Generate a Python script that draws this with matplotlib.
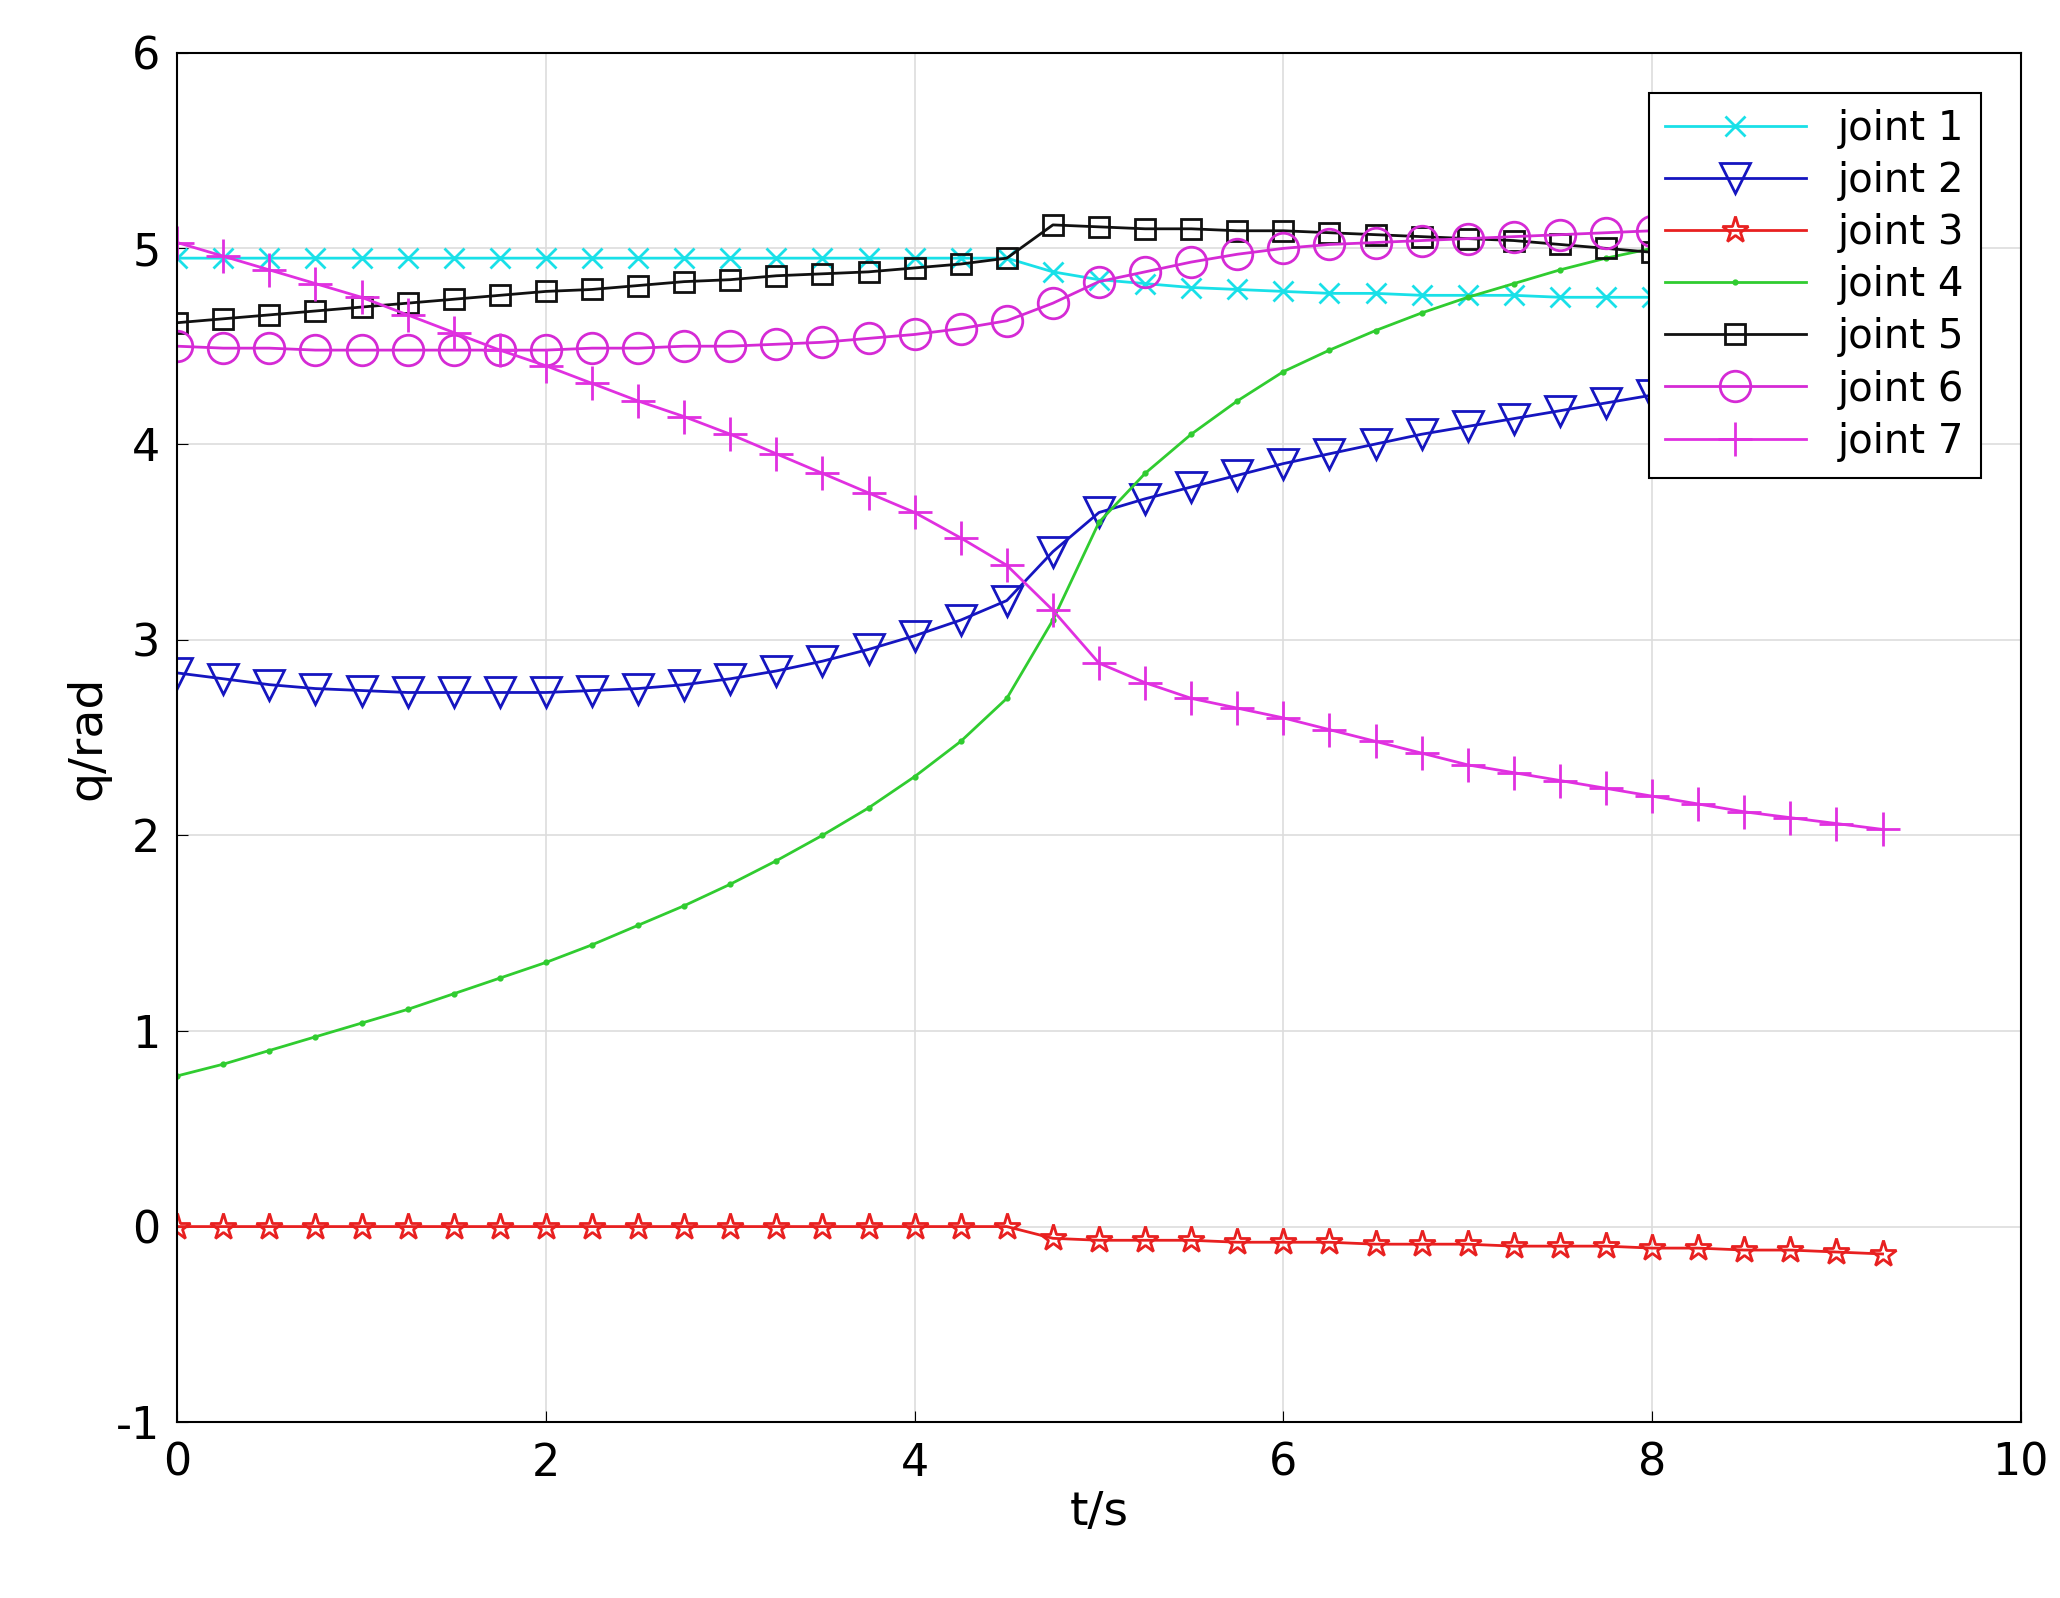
import matplotlib
matplotlib.use("Agg")
import matplotlib.pyplot as plt
import numpy as np

plt.rcParams['axes.unicode_minus'] = False

# time samples (s)
t = [0, .25, .5, .75, 1, 1.25, 1.5, 1.75, 2, 2.25, 2.5, 2.75, 3, 3.25, 3.5, 3.75, 4, 4.25, 4.5,
     4.75, 5, 5.25, 5.5, 5.75, 6, 6.25, 6.5, 6.75, 7, 7.25, 7.5, 7.75, 8, 8.25, 8.5, 8.75, 9, 9.25]

joint1 = [4.95] * 19 + [4.88, 4.84, 4.82, 4.80, 4.79, 4.78, 4.77, 4.77, 4.76, 4.76, 4.76, 4.75,
                        4.75, 4.75, 4.74, 4.74, 4.74, 4.73, 4.73]
joint2 = [2.83, 2.80, 2.77, 2.75, 2.74, 2.73, 2.73, 2.73, 2.73, 2.74, 2.75, 2.77, 2.80, 2.84, 2.89,
          2.95, 3.02, 3.10, 3.20, 3.45, 3.65, 3.72, 3.78, 3.84, 3.90, 3.95, 4.00, 4.05, 4.09, 4.13,
          4.17, 4.21, 4.25, 4.28, 4.31, 4.34, 4.37, 4.40]
joint3 = [0.0] * 19 + [-0.06, -0.07, -0.07, -0.07, -0.08, -0.08, -0.08, -0.09, -0.09, -0.09, -0.10,
                       -0.10, -0.10, -0.11, -0.11, -0.12, -0.12, -0.13, -0.14]
joint4 = [0.77, 0.83, 0.90, 0.97, 1.04, 1.11, 1.19, 1.27, 1.35, 1.44, 1.54, 1.64, 1.75, 1.87, 2.00,
          2.14, 2.30, 2.48, 2.70, 3.10, 3.60, 3.85, 4.05, 4.22, 4.37, 4.48, 4.58, 4.67, 4.75, 4.82,
          4.89, 4.95, 5.00, 5.04, 5.08, 5.12, 5.16, 5.20]
joint5 = [4.62, 4.64, 4.66, 4.68, 4.70, 4.72, 4.74, 4.76, 4.78, 4.79, 4.81, 4.83, 4.84, 4.86, 4.87,
          4.88, 4.90, 4.92, 4.95, 5.12, 5.11, 5.10, 5.10, 5.09, 5.09, 5.08, 5.07, 5.06, 5.05, 5.04,
          5.02, 5.00, 4.98, 4.97, 4.96, 4.95, 4.94, 4.93]
joint6 = [4.50, 4.49, 4.49, 4.48, 4.48, 4.48, 4.48, 4.48, 4.48, 4.49, 4.49, 4.50, 4.50, 4.51, 4.52,
          4.54, 4.56, 4.59, 4.63, 4.72, 4.83, 4.88, 4.93, 4.97, 5.00, 5.02, 5.03, 5.04, 5.05, 5.06,
          5.07, 5.08, 5.09, 5.10, 5.11, 5.12, 5.13, 5.14]
joint7 = [5.03, 4.96, 4.89, 4.82, 4.75, 4.66, 4.57, 4.48, 4.40, 4.31, 4.22, 4.14, 4.05, 3.95, 3.85,
          3.75, 3.65, 3.52, 3.38, 3.15, 2.88, 2.78, 2.70, 2.65, 2.60, 2.54, 2.48, 2.42, 2.36, 2.32,
          2.28, 2.24, 2.20, 2.16, 2.12, 2.09, 2.06, 2.03]

series = [
    ("joint 1", joint1, "#19e0e8", "x", 14),
    ("joint 2", joint2, "#1515c0", "v", 22),
    ("joint 3", joint3, "#e82020", "*", 20),
    ("joint 4", joint4, "#30cc30", ".", 5),
    ("joint 5", joint5, "#111111", "s", 15),
    ("joint 6", joint6, "#d52ad5", "o", 22),
    ("joint 7", joint7, "#e030e0", "+", 24),
]

fig = plt.figure(figsize=(20.6, 15.98), dpi=100)
ax = fig.add_axes([0.086, 0.11, 0.895, 0.857])

for nombre, valores, color, marca, tam in series:
    ax.plot(t, valores, color=color, marker=marca, markersize=tam, markerfacecolor="none",
            markeredgewidth=2, linewidth=2, label=nombre)

ax.set_xlim(0, 10)
ax.set_ylim(-1, 6)
ax.set_xticks(range(0, 11, 2))
ax.set_yticks(range(-1, 7))
ax.grid(True, color="#dddddd", linewidth=1.2)
ax.tick_params(labelsize=32, direction="in", length=8)
ax.tick_params(axis="x", pad=14)
ax.tick_params(axis="y", pad=12)
ax.set_xlabel("t/s", fontsize=34)
ax.set_ylabel("q/rad", fontsize=34)
for sp in ax.spines.values():
    sp.set_linewidth(1.5)

leg = ax.legend(loc="upper right", fontsize=29, fancybox=False, edgecolor="black",
                framealpha=1, handlelength=3.5, borderaxespad=1.0, labelspacing=0.3)
leg.get_frame().set_linewidth(1.5)

fig.savefig("out.png", dpi=100)
